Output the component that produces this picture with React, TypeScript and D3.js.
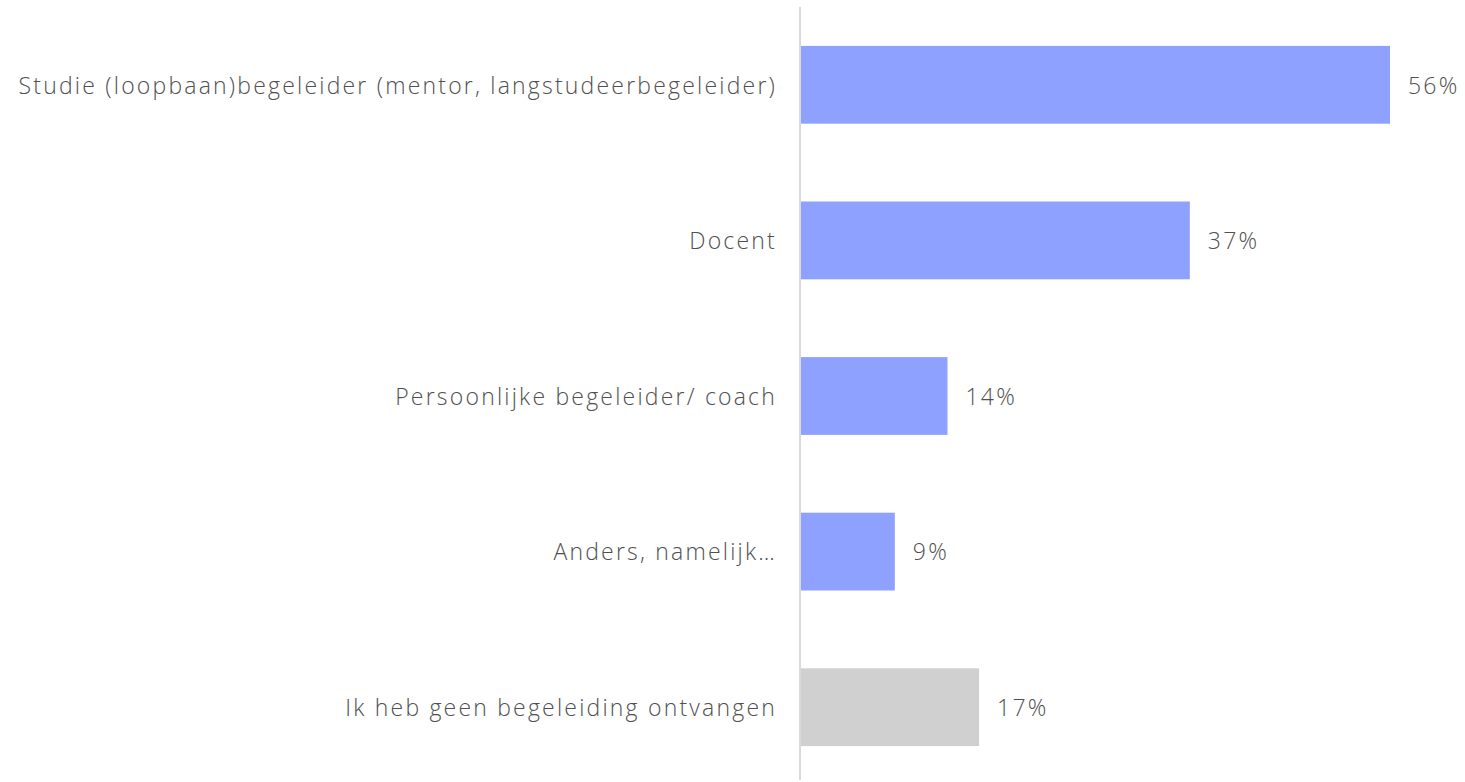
import * as d3 from "d3";
import React from "react";

const categories = [
  "Studie (loopbaan)begeleider (mentor, langstudeerbegeleider)",
  "Docent",
  "Persoonlijke begeleider/ coach",
  "Anders, namelijk…",
  "Ik heb geen begeleiding ontvangen",
];
const values = [56, 37, 14, 9, 17];
const colors = ["#8FA1FF", "#8FA1FF", "#8FA1FF", "#8FA1FF", "#D0D0D0"];

const W = 1465;
const H = 782;
const axisX = 800;

export default function App() {
  const x = d3.scaleLinear().domain([0, 56]).range([axisX, 1390]);
  const y = d3
    .scaleBand()
    .domain(categories)
    .range([7, 785])
    .paddingInner(0.5)
    .paddingOuter(0.25);

  return (
    <svg
      width={W}
      height={H}
      style={{ position: "absolute", left: 0, top: 0, fontFamily: "'Open Sans', sans-serif" }}
    >
      {categories.map((c, i) => {
        const yy = y(c)!;
        const bh = y.bandwidth();
        return (
          <g key={c}>
            <rect x={axisX} y={yy} width={x(values[i]) - axisX} height={bh} fill={colors[i]} />
            <text
              x={777}
              y={yy + bh / 2}
              dy="0.38em"
              textAnchor="end"
              fontSize={23}
              fontWeight={300}
              letterSpacing={2.2}
              fill="#505050"
            >
              {c}
            </text>
            <text
              x={x(values[i]) + 18}
              y={yy + bh / 2}
              dy="0.38em"
              fontSize={23}
              fontWeight={300}
              letterSpacing={2.2}
              fill="#505050"
            >
              {d3.format(".0f")(values[i])}%
            </text>
          </g>
        );
      })}
      <line x1={axisX} x2={axisX} y1={7} y2={780} stroke="#D9D9D9" strokeWidth={2} />
    </svg>
  );
}
